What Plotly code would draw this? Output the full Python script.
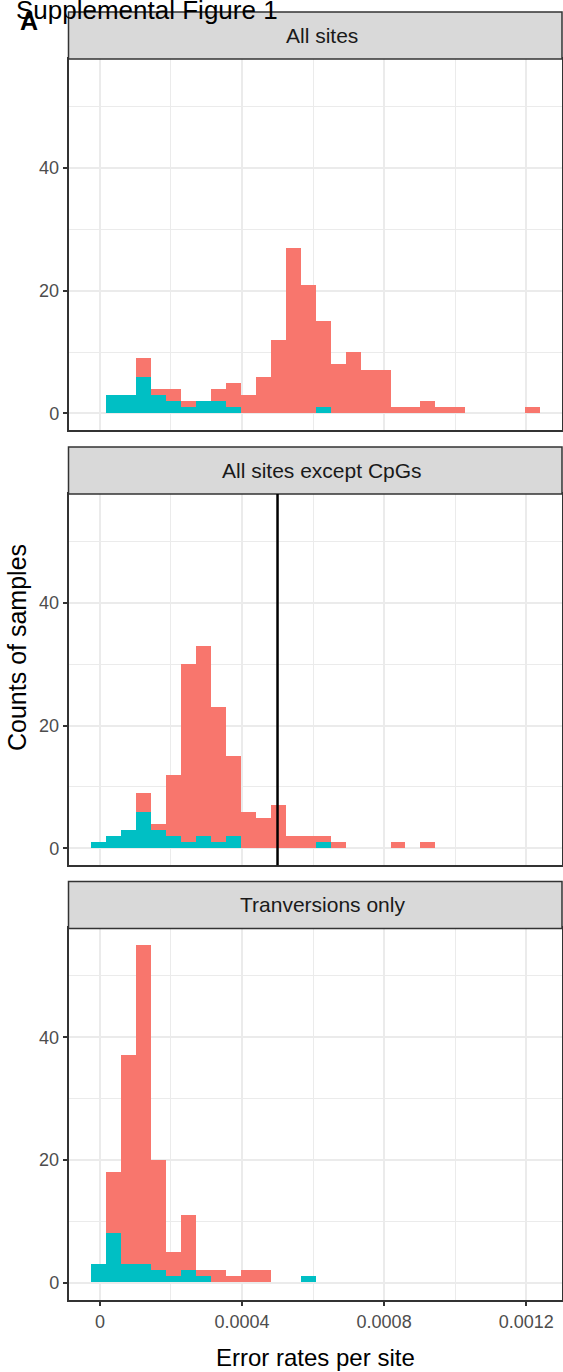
import plotly.graph_objects as go

# ---- data: sample counts per error-rate bin (30 shared bins) ----
panel_titles = ["All sites", "All sites except CpGs", "Tranversions only"]

bin_start = -2.52e-5
bin_width = 4.209e-5

all_sites_teal = [0, 3, 3, 6, 3, 2, 1, 2, 2, 1, 0, 0, 0, 0, 0,
                  1, 0, 0, 0, 0, 0, 0, 0, 0, 0, 0, 0, 0, 0, 0]
all_sites_red = [0, 0, 0, 3, 1, 2, 1, 0, 2, 4, 3, 6, 12, 27, 21,
                 14, 8, 10, 7, 7, 1, 1, 2, 1, 1, 0, 0, 0, 0, 1]

no_cpg_teal = [1, 2, 3, 6, 3, 2, 1, 2, 1, 2, 0, 0, 0, 0, 0,
               1, 0, 0, 0, 0, 0, 0, 0, 0, 0, 0, 0, 0, 0, 0]
no_cpg_red = [0, 0, 0, 3, 1, 10, 29, 31, 22, 13, 6, 5, 7, 2, 2,
              1, 1, 0, 0, 0, 1, 0, 1, 0, 0, 0, 0, 0, 0, 0]

transv_teal = [3, 8, 3, 3, 2, 1, 2, 1, 0, 0, 0, 0, 0, 0, 1,
               0, 0, 0, 0, 0, 0, 0, 0, 0, 0, 0, 0, 0, 0, 0]
transv_red = [0, 10, 34, 52, 18, 4, 9, 1, 2, 1, 2, 2, 0, 0, 0,
              0, 0, 0, 0, 0, 0, 0, 0, 0, 0, 0, 0, 0, 0, 0]

cutoff_rate = 0.0005  # reference line drawn in the CpG-excluded panel

x_tick_vals = [0, 0.0004, 0.0008, 0.0012]
x_tick_text = ["0", "0.0004", "0.0008", "0.0012"]
x_minor_vals = [0.0002, 0.0006, 0.0010]
y_tick_vals = [0, 20, 40]
y_tick_text = ["0", "20", "40"]
y_minor_vals = [10, 30, 50]

panel_teal = [all_sites_teal, no_cpg_teal, transv_teal]
panel_red = [all_sites_red, no_cpg_red, transv_red]

# ---- page geometry (pixels) ----
W, H = 563, 1372
FONT = "Liberation Sans"
RED = "#F8766D"
TEAL = "#00BFC4"
DARK = "#333333"
GRID = "#EBEBEB"

plot_left, plot_right = 68.5, 562
panel_px = [(59, 430.3), (494, 865.2), (928.4, 1299.6)]  # (top, bottom)
strip_h = 47
strip_text_x = 322


def px_x(p):
    return p / W


def px_y(p):
    return 1 - p / H


n_bins = len(all_sites_red)
bin_centers = [bin_start + bin_width * (i + 0.5) for i in range(n_bins)]
bin_lo = bin_start
bin_hi = bin_start + bin_width * n_bins
span = bin_hi - bin_lo
x_range = [bin_lo - 0.05 * span, bin_hi + 0.05 * span]
y_max = max(max(t + r for t, r in zip(tl, rl)) for tl, rl in zip(panel_teal, panel_red))
y_range = [-0.05 * y_max, 1.05 * y_max]

fig = go.Figure()
shapes = []
annotations = []
layout_axes = {}

for k in range(3):
    idx = "" if k == 0 else str(k + 1)
    xa, ya = "x" + idx, "y" + idx
    fig.add_trace(go.Bar(x=bin_centers, y=panel_teal[k], width=bin_width,
                         marker=dict(color=TEAL, line=dict(width=0)),
                         xaxis=xa, yaxis=ya, showlegend=False))
    fig.add_trace(go.Bar(x=bin_centers, y=panel_red[k], width=bin_width,
                         marker=dict(color=RED, line=dict(width=0)),
                         xaxis=xa, yaxis=ya, showlegend=False))

    top, bottom = panel_px[k]
    bottom_panel = (k == 2)
    layout_axes["xaxis" + idx] = dict(
        domain=[px_x(plot_left), px_x(plot_right)], anchor=ya, range=x_range,
        showline=True, mirror=True, linecolor=DARK, linewidth=1.5,
        showgrid=True, gridcolor=GRID, gridwidth=2, zeroline=False,
        tickmode="array", tickvals=x_tick_vals, ticktext=x_tick_text,
        showticklabels=bottom_panel,
        ticks="outside" if bottom_panel else "", ticklen=5, tickwidth=2,
        tickcolor=DARK, tickfont=dict(family=FONT, size=18, color="#4D4D4D"),
        minor=dict(tickmode="array", tickvals=x_minor_vals, showgrid=True,
                   gridcolor=GRID, gridwidth=1.1, ticks=""),
    )
    layout_axes["yaxis" + idx] = dict(
        domain=[px_y(bottom), px_y(top)], anchor=xa, range=y_range,
        showline=True, mirror=True, linecolor=DARK, linewidth=1.5,
        showgrid=True, gridcolor=GRID, gridwidth=2, zeroline=False,
        tickmode="array", tickvals=y_tick_vals, ticktext=y_tick_text,
        ticks="outside", ticklen=4, tickwidth=2, tickcolor=DARK,
        tickfont=dict(family=FONT, size=18, color="#4D4D4D"),
        minor=dict(tickmode="array", tickvals=y_minor_vals, showgrid=True,
                   gridcolor=GRID, gridwidth=1.1, ticks=""),
    )

    # zero-height bins leave a faint baseline across the binned range
    shapes.append(dict(type="line", xref=xa, yref=ya, x0=bin_lo, x1=bin_hi,
                       y0=0, y1=0, line=dict(color="#C4C4C4", width=1),
                       layer="below"))

    # facet strip
    shapes.append(dict(type="rect", xref="paper", yref="paper",
                       x0=px_x(plot_left), x1=px_x(plot_right),
                       y0=px_y(top), y1=px_y(top - strip_h),
                       fillcolor="#D9D9D9", line=dict(color=DARK, width=1.5),
                       layer="above"))
    annotations.append(dict(text=panel_titles[k], xref="paper", yref="paper",
                            x=px_x(strip_text_x),
                            y=px_y(top - strip_h / 2), showarrow=False,
                            xanchor="center", yanchor="middle",
                            font=dict(family=FONT, size=21, color="#1A1A1A")))

# vertical cut-off line in the middle panel
shapes.append(dict(type="line", xref="x2", yref="y2 domain",
                   x0=cutoff_rate, x1=cutoff_rate, y0=0, y1=1,
                   line=dict(color="black", width=2.5)))

annotations += [
    dict(text="Error rates per site", xref="paper", yref="paper",
         x=px_x((plot_left + plot_right) / 2), y=px_y(1357), showarrow=False,
         xanchor="center", yanchor="middle",
         font=dict(family=FONT, size=24, color="black")),
    dict(text="Counts of samples", xref="paper", yref="paper",
         x=px_x(17), y=px_y(648), showarrow=False, textangle=-90,
         xanchor="center", yanchor="middle",
         font=dict(family=FONT, size=25, color="black")),
    dict(text="Supplemental Figure 1", xref="paper", yref="paper",
         x=px_x(14), y=px_y(10), showarrow=False,
         xanchor="left", yanchor="middle",
         font=dict(family=FONT, size=26, color="black")),
    dict(text="<b>A</b>", xref="paper", yref="paper",
         x=px_x(18), y=px_y(21), showarrow=False,
         xanchor="left", yanchor="middle",
         font=dict(family=FONT, size=25, color="black")),
]

fig.update_layout(
    width=W, height=H, margin=dict(l=0, r=0, t=0, b=0),
    paper_bgcolor="white", plot_bgcolor="white",
    barmode="stack", bargap=0, showlegend=False,
    shapes=shapes, annotations=annotations,
    **layout_axes,
)

fig.write_html("out.html")
